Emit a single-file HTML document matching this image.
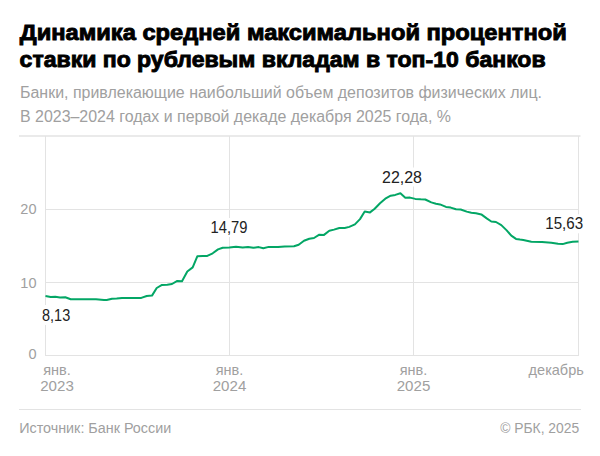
<!DOCTYPE html>
<html><head><meta charset="utf-8">
<style>
html,body{margin:0;padding:0;background:#fff;width:600px;height:456px;overflow:hidden}
svg{display:block}
text{font-family:"Liberation Sans",sans-serif}
.t{font-weight:bold;font-size:22px;fill:#000;stroke:#000;stroke-width:0.9px}
.s{font-size:15.6px;fill:#a0a0a0}
.ax{font-size:14.5px;fill:#a0a0a0}
.v{font-size:16.3px;fill:#222}
.f{font-size:14px;fill:#a0a0a0}
</style></head>
<body>
<svg width="600" height="456" viewBox="0 0 600 456">
<rect width="600" height="456" fill="#fff"/>
<text class="t" x="19.8" y="40" textLength="547" lengthAdjust="spacingAndGlyphs">Динамика средней максимальной процентной</text>
<text class="t" x="19.6" y="67" textLength="526" lengthAdjust="spacingAndGlyphs">ставки по рублевым вкладам в топ-10 банков</text>
<text class="s" x="20" y="97.7" textLength="522" lengthAdjust="spacingAndGlyphs">Банки, привлекающие наибольший объем депозитов физических лиц.</text>
<text class="s" x="20" y="121.7" textLength="431" lengthAdjust="spacingAndGlyphs">В 2023–2024 годах и первой декаде декабря 2025 года, %</text>
<g stroke="#e3e3e3" stroke-width="1" fill="none" shape-rendering="crispEdges">
<line x1="45.5" y1="209.5" x2="578.5" y2="209.5"/>
<line x1="45.5" y1="282.5" x2="578.5" y2="282.5"/>
<line x1="45.5" y1="355.5" x2="578.5" y2="355.5"/>
<line x1="45.5" y1="136" x2="45.5" y2="356"/>
<line x1="229.5" y1="136" x2="229.5" y2="356"/>
<line x1="413.5" y1="136" x2="413.5" y2="356"/>
<line x1="578.5" y1="136" x2="578.5" y2="356"/>
<line x1="19" y1="409.5" x2="580.5" y2="409.5"/>
</g>
<line x1="19" y1="136" x2="580.5" y2="136" stroke="#e3e3e3" stroke-width="1.3"/>
<text class="ax" x="36.5" y="214.2" text-anchor="end">20</text>
<text class="ax" x="36.5" y="287.6" text-anchor="end">10</text>
<text class="ax" x="36.7" y="359" text-anchor="end">0</text>
<g class="ax" text-anchor="middle">
<text x="57" y="374.6">янв.</text><text x="57" y="391.2" textLength="33.6" lengthAdjust="spacingAndGlyphs">2023</text>
<text x="229.5" y="374.6">янв.</text><text x="229.5" y="391.2" textLength="33.6" lengthAdjust="spacingAndGlyphs">2024</text>
<text x="413.5" y="374.6">янв.</text><text x="413.5" y="391.2" textLength="33.6" lengthAdjust="spacingAndGlyphs">2025</text>
</g>
<text class="ax" x="583.8" y="375.4" text-anchor="end">декабрь</text>
<polyline points="45.5,296 50.7,296.9 55.3,296.8 60,297.5 65.3,297.3 70.7,299.3 80,299.3 96,299.3 104,300 106.7,299.9 112,298.7 116.7,298.5 122,297.9 130,297.9 141.3,297.9 146.7,296 152,295.6 156.7,288 162,284.9 167.3,284.7 172,284 177.3,280.9 182,281.2 187.3,271.5 192.7,267.4 197.3,256.3 202.7,255.9 207.3,255.9 212.7,253.3 218,249.4 222.7,247.8 229.3,247.4 236,246.7 242.7,247.4 248,247 253.3,247.8 258.7,247.1 263.3,248.3 268.7,246.9 278,247.1 284.7,246.4 294,246.3 298.7,244.7 304,240.7 309.3,238.7 314,238 319.3,234.7 324,234.9 329.3,230.7 334,229.6 339.3,228 344.7,228 349.3,226.9 354.9,224.4 360,219.1 364.7,211.5 370,212.4 374.7,208.7 380,203.3 385.3,198.7 390.7,195.7 395.3,194.9 400.4,193.3 405.3,197.7 410,197.6 415.3,198.9 420.7,199.3 425.3,199.5 431.3,202.4 436,203.7 440,204.4 446,206.9 450.7,207.6 456,209.3 460.7,209.5 466.7,211.6 471.3,212.7 476,213.3 481.3,214.4 486.7,218.4 491.3,221.5 496,222 501.3,225.1 506.7,230.4 511.3,235.7 516,238.9 520,239.6 523.3,240.1 531.3,241.7 542,241.9 551.3,242.7 558,243.7 562.7,244.1 567.3,242.7 572.7,241.7 578.5,241.4" fill="none" stroke="#03a665" stroke-width="2" stroke-linejoin="round" stroke-linecap="butt"/>
<g fill="#fff">
<rect x="40" y="305" width="32" height="20"/>
<rect x="208" y="218" width="41" height="19"/>
<rect x="380" y="167.5" width="43" height="19"/>
<rect x="543" y="214.3" width="41" height="19"/>
</g>
<text class="v" x="42" y="320.6" textLength="28.2" lengthAdjust="spacingAndGlyphs">8,13</text>
<text class="v" x="210.5" y="233.1" textLength="36.9" lengthAdjust="spacingAndGlyphs">14,79</text>
<text class="v" x="382" y="183" textLength="40" lengthAdjust="spacingAndGlyphs">22,28</text>
<text class="v" x="545.3" y="229" textLength="37.8" lengthAdjust="spacingAndGlyphs">15,63</text>
<text class="f" x="19.2" y="433.2" textLength="152" lengthAdjust="spacingAndGlyphs">Источник: Банк России</text>
<text class="f" x="579.2" y="432.6" text-anchor="end" textLength="79" lengthAdjust="spacingAndGlyphs">© РБК, 2025</text>
</svg>
</body></html>
